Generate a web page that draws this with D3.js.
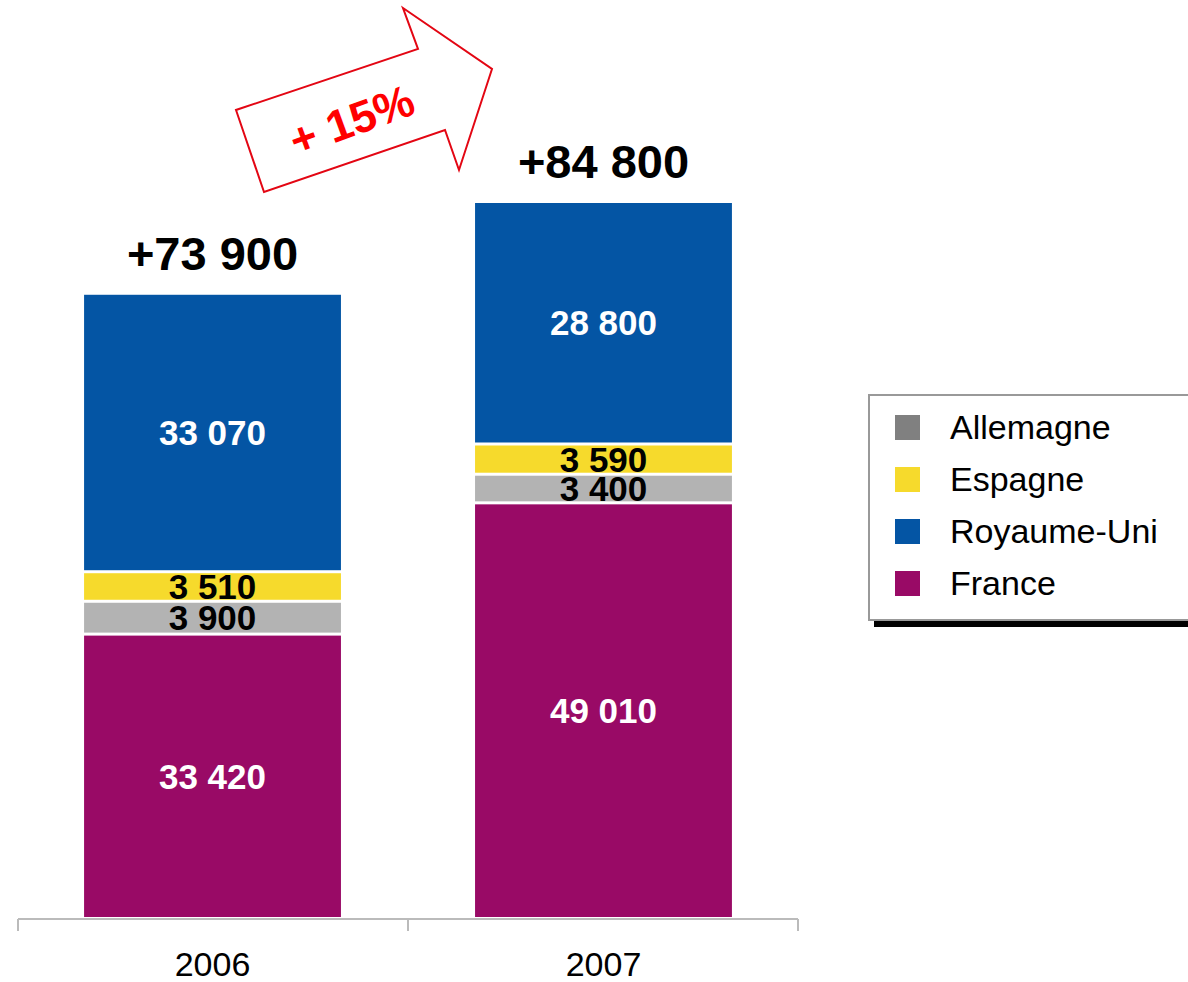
<!DOCTYPE html>
<html>
<head>
<meta charset="utf-8">
<script src="https://cdn.jsdelivr.net/npm/d3@7"></script>
<style>
  body { margin: 0; background: #fff; }
  svg { display: block; }
</style>
</head>
<body>
<div id="chart"></div>
<script>
// data
var years = ["2006", "2007"]
var countries = ["France", "Allemagne", "Espagne", "Royaume-Uni"]   // stack order, bottom -> top
var france = [33420, 49010]
var allemagne = [3900, 3400]
var espagne = [3510, 3590]
var royaumeUni = [33070, 28800]
var totals = ["+73 900", "+84 800"]
var legendOrder = ["Allemagne", "Espagne", "Royaume-Uni", "France"]
var growthLabel = "+ 15%"

var width = 1188
var height = 982

var barColor = {
    "France": "#990a66",
    "Allemagne": "#b3b3b3",
    "Espagne": "#f6da2c",
    "Royaume-Uni": "#0455a4"
}
var swatchColor = {
    "France": "#990a66",
    "Allemagne": "#808080",
    "Espagne": "#f6da2c",
    "Royaume-Uni": "#0455a4"
}
var labelColor = {
    "France": "#fff",
    "Allemagne": "#000",
    "Espagne": "#000",
    "Royaume-Uni": "#fff"
}

// table for d3.stack
var rows = years.map(function (y, i) {
    return {
        year: y,
        "France": france[i],
        "Allemagne": allemagne[i],
        "Espagne": espagne[i],
        "Royaume-Uni": royaumeUni[i]
    }
})

var series = d3.stack().keys(countries)(rows)

var x = d3.scaleBand()
    .domain(years)
    .range([18, 798])
    .paddingInner(0.343)
    .paddingOuter(0.169)

var y = d3.scaleLinear()
    .domain([0, 84800])
    .range([917, 203])

var svg = d3.select("#chart")
    .append("svg")
    .attr("width", width)
    .attr("height", height)

var gap = 3

// bars
svg.selectAll("g.layer")
    .data(series)
    .enter()
    .append("g")
    .attr("class", "layer")
    .attr("fill", function (s) { return barColor[s.key] })
    .selectAll("rect")
    .data(function (s) { return s })
    .enter()
    .append("rect")
    .attr("x", function (d) { return x(d.data.year) })
    .attr("width", x.bandwidth())
    .attr("y", function (d) { return y(d[1]) })
    .attr("height", function (d) {
        return y(d[0]) - y(d[1]) - (d[0] > 0 ? gap : 0)
    })

// segment labels
series.forEach(function (s) {
    var fs = 35
    svg.append("g")
        .selectAll("text")
        .data(s)
        .enter()
        .append("text")
        .attr("x", function (d) { return x(d.data.year) + x.bandwidth() / 2 })
        .attr("y", function (d) {
            var segTop = y(d[1])
            var segBottom = y(d[0]) - (d[0] > 0 ? gap : 0)
            return (segTop + segBottom) / 2 + fs * 0.36
        })
        .attr("text-anchor", "middle")
        .attr("font-family", "Liberation Sans, Arial, sans-serif")
        .attr("font-weight", "bold")
        .attr("font-size", fs)
        .attr("fill", labelColor[s.key])
        .text(function (d) { return d3.format(",")(d[1] - d[0]).replace(",", " ") })
})

// totals above the bars
var topLayer = series[series.length - 1]
svg.append("g")
    .selectAll("text")
    .data(topLayer)
    .enter()
    .append("text")
    .attr("x", function (d) { return x(d.data.year) + x.bandwidth() / 2 })
    .attr("y", function (d) { return y(d[1]) - 25 })
    .attr("text-anchor", "middle")
    .attr("font-family", "Liberation Sans, Arial, sans-serif")
    .attr("font-weight", "bold")
    .attr("font-size", 47)
    .attr("fill", "#000")
    .text(function (d, i) { return totals[i] })

// x axis: line with ticks at the band edges
var axisY = 919
var axis = svg.append("g")
    .attr("stroke", "#bbbbbb")
    .attr("stroke-width", 2)
axis.append("line")
    .attr("x1", x.range()[0]).attr("x2", x.range()[1])
    .attr("y1", axisY).attr("y2", axisY)
var edges = [x.range()[0]].concat(years.map(function (yr) {
    return x(yr) + x.bandwidth() + x.step() * x.paddingInner() / 2
}))
edges[edges.length - 1] = x.range()[1]
axis.selectAll("line.tick")
    .data(edges)
    .enter()
    .append("line")
    .attr("class", "tick")
    .attr("x1", function (d) { return d }).attr("x2", function (d) { return d })
    .attr("y1", axisY).attr("y2", axisY + 12)

svg.append("g")
    .selectAll("text")
    .data(years)
    .enter()
    .append("text")
    .attr("x", function (d) { return x(d) + x.bandwidth() / 2 })
    .attr("y", 976)
    .attr("text-anchor", "middle")
    .attr("font-family", "Liberation Sans, Arial, sans-serif")
    .attr("font-size", 34)
    .attr("fill", "#000")
    .text(function (d) { return d })

// legend
var legend = svg.append("g").attr("transform", "translate(868,394)")
legend.append("rect")
    .attr("x", 6).attr("y", 7)
    .attr("width", 340).attr("height", 226)
    .attr("fill", "#000")
legend.append("rect")
    .attr("x", 1).attr("y", 1)
    .attr("width", 340).attr("height", 225)
    .attr("fill", "#fff")
    .attr("stroke", "#999")
    .attr("stroke-width", 2)
var item = legend.selectAll("g.item")
    .data(legendOrder)
    .enter()
    .append("g")
    .attr("class", "item")
    .attr("transform", function (d, i) { return "translate(27," + (21 + i * 52) + ")" })
item.append("rect")
    .attr("width", 25).attr("height", 25)
    .attr("fill", function (d) { return swatchColor[d] })
item.append("text")
    .attr("x", 55)
    .attr("y", 24)
    .attr("font-family", "Liberation Sans, Arial, sans-serif")
    .attr("font-size", 34)
    .attr("fill", "#000")
    .text(function (d) { return d })

// growth arrow
var arrowPts = [[264, 192], [236, 110], [418, 49], [403, 8], [492, 69], [459, 170], [445, 130]]
svg.append("path")
    .attr("d", d3.line()(arrowPts) + "Z")
    .attr("fill", "#fff")
    .attr("stroke", "#e30613")
    .attr("stroke-width", 2)
    .attr("stroke-linejoin", "miter")
svg.append("text")
    .attr("transform", "translate(357,135) rotate(-20)")
    .attr("text-anchor", "middle")
    .attr("font-family", "Liberation Sans, Arial, sans-serif")
    .attr("font-weight", "bold")
    .attr("font-size", 45)
    .attr("fill", "#ff0000")
    .text(growthLabel)
</script>
</body>
</html>
